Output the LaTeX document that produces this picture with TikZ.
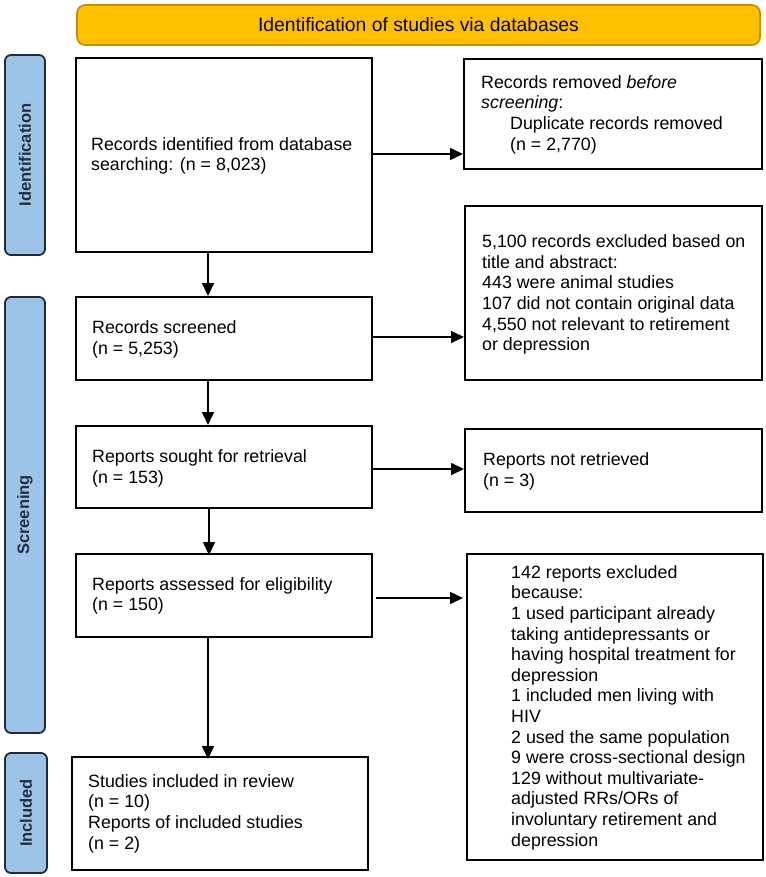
\documentclass[tikz,border=0pt]{standalone}
\usepackage{fontspec}
\setmainfont{Liberation Sans}
\usetikzlibrary{arrows.meta}
\definecolor{bannerfill}{HTML}{FFC000}
\definecolor{bannerdraw}{HTML}{BF9000}
\definecolor{sidefill}{HTML}{9DC3E6}
\definecolor{sidedraw}{HTML}{1F2B3A}
\definecolor{sidetext}{HTML}{1F2F45}
\tikzset{
  box/.style={draw, line width=2pt, inner sep=0pt},
  txt/.style={anchor=west, align=left, inner sep=0pt, font=\fontsize{17.8}{20.6}\selectfont},
  arr/.style={-{Triangle[length=13pt,width=12pt]}, line width=1.6pt},
  side/.style={draw=sidedraw, fill=sidefill, rounded corners=6pt, line width=1.8pt, inner sep=0pt},
  sidetxt/.style={rotate=90, font=\bfseries\fontsize{16.5}{18}\selectfont, text=sidetext},
  banner/.style={draw=bannerdraw, fill=bannerfill, rounded corners=8pt, line width=1.6pt, inner sep=0pt},
}
\begin{document}
\begin{tikzpicture}[x=1pt,y=-1pt]
\useasboundingbox (0,0) rectangle (765,877);
% banner
\node[banner, minimum width=683pt, minimum height=40pt, font=\fontsize{19.3}{21}\selectfont] (ban) at (418.5,25) {Identification of studies via databases};
% side labels
\node[side, minimum width=40pt, minimum height=200pt] (sid) at (25,155) {};
\node[sidetxt] (sidt) at (sid.center) {Identification};
\node[side, minimum width=40pt, minimum height=436pt] (sscr) at (25,515) {};
\node[sidetxt] (sscrt) at (sscr.center) {Screening};
\node[side, minimum width=42pt, minimum height=120pt] (sinc) at (26,813) {};
\node[sidetxt] (sinct) at (sinc.center) {Included};
% boxes
\node[box, minimum width=296pt, minimum height=194pt] (b1) at (224,155) {};
\node[box, minimum width=298pt, minimum height=110pt] (rem) at (613,114) {};
\node[box, minimum width=296pt, minimum height=83pt] (scr) at (224,338.5) {};
\node[box, minimum width=297pt, minimum height=174pt] (exc) at (613.5,293) {};
\node[box, minimum width=296pt, minimum height=82pt] (sought) at (224,467) {};
\node[box, minimum width=297pt, minimum height=83pt] (notret) at (613.5,470.5) {};
\node[box, minimum width=296pt, minimum height=83pt] (assess) at (224,595.5) {};
\node[box, minimum width=296pt, minimum height=306pt] (excl) at (615,707) {};
\node[box, minimum width=296pt, minimum height=113pt] (incl) at (220,813.5) {};
% texts
\node[txt] (t1) at (91,156) {Records identified from database\\searching: (n = 8,023)};
\node[txt] (t2) at (481,114.5) {Records removed \textit{before}\\\textit{screening}:\\\hspace*{29pt}Duplicate records removed\\\hspace*{29pt}(n = 2,770)};
\node[txt] (t3) at (482,294.5) {5,100 records excluded based on\\title and abstract:\\443 were animal studies\\107 did not contain original data\\4,550 not relevant to retirement\\or depression};
\node[txt] (t4) at (92,339.5) {Records screened\\(n = 5,253)};
\node[txt] (t5) at (92,468.5) {Reports sought for retrieval\\(n = 153)};
\node[txt] (t6) at (483,471.5) {Reports not retrieved\\(n = 3)};
\node[txt] (t7) at (92,596) {Reports assessed for eligibility\\(n = 150)};
\node[txt] (t8) at (511,707.5) {142 reports excluded\\because:\\1 used participant already\\taking antidepressants or\\having hospital treatment for\\depression\\1 included men living with\\HIV\\2 used the same population\\9 were cross-sectional design\\129 without multivariate-\\adjusted RRs/ORs of\\involuntary retirement and\\depression};
\node[txt] (t9) at (88,813.5) {Studies included in review\\(n = 10)\\Reports of included studies\\(n = 2)};
% horizontal arrows
\draw[arr] (b1.east |- 0,154) -- (rem.west |- 0,154);
\draw[arr] (scr.east |- 0,337) -- (exc.west |- 0,337);
\draw[arr] (sought.east |- 0,469) -- (notret.west |- 0,469);
\draw[arr] ([xshift=3pt]assess.east |- 0,598) -- ([xshift=-3pt]excl.west |- 0,598);
% vertical arrows
\draw[arr] (b1.south -| 208,0) -- (scr.north -| 208,0);
\draw[arr] (scr.south -| 208,0) -- (sought.north -| 208,0);
\draw[arr] (sought.south -| 209,0) -- ([yshift=-2pt]assess.north -| 209,0);
\draw[arr] (assess.south -| 208,0) -- ([yshift=-3pt]incl.north -| 208,0);
\end{tikzpicture}
\end{document}
